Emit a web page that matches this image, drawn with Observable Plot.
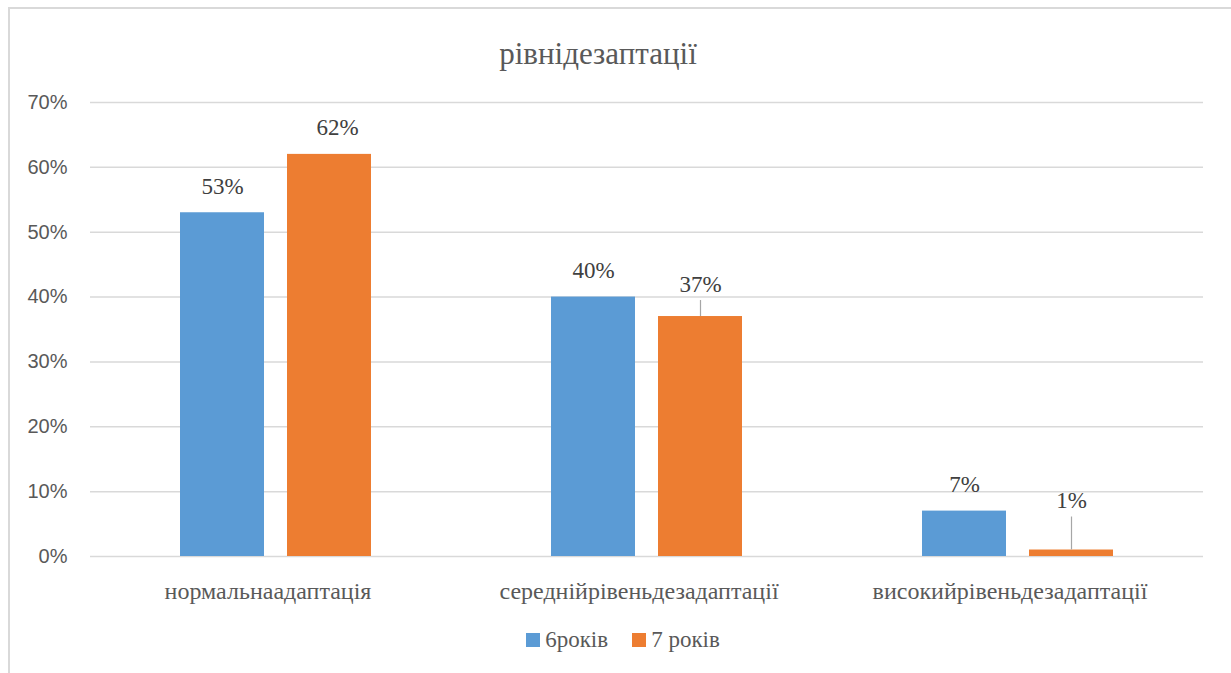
<!DOCTYPE html>
<html><head><meta charset="utf-8">
<script src="https://cdn.jsdelivr.net/npm/d3@7"></script>
<script src="https://cdn.jsdelivr.net/npm/@observablehq/plot@0.6"></script>
<style>
body{margin:0;background:#fff;overflow:hidden}
#wrap{position:relative;width:1231px;height:673px;overflow:hidden}
#frame{position:absolute;left:8px;top:7px;width:1260px;height:720px;border-left:2px solid #d9d9d9;border-top:2px solid #d9d9d9}
.serif{font-family:"Liberation Serif","Times New Roman",Tinos,"DejaVu Serif",serif}
#title{position:absolute;left:0;top:40px;width:1196px;text-align:center;font-size:31px;line-height:28px;color:#595959}
#chart{position:absolute;left:0;top:80px}
#legend{position:absolute;left:0;top:628px;width:1246px;display:flex;justify-content:center;align-items:center;font-size:23px;color:#595959;line-height:24px}
.item{display:flex;align-items:center;margin:0 12px}
.sw{width:14px;height:14px;margin-right:5px}
</style>
</head><body>
<div id="wrap">
<div id="frame"></div>
<div id="title" class="serif"></div>
<div id="chart"></div>
<div id="legend" class="serif"></div>
</div>
<script>
const titleText = "рівнідезаптації";
const categories = ["нормальнаадаптація", "середнійрівеньдезадаптації", "високийрівеньдезадаптації"];
const series = ["6років", "7 років"];
const values6 = [53, 40, 7];
const values7 = [62, 37, 1];
const yTicks = [0, 10, 20, 30, 40, 50, 60, 70];
const colors = ["#5b9bd5", "#ed7d31"];

const SERIF = '"Liberation Serif","Times New Roman",Tinos,"DejaVu Serif",serif';

const data = categories.flatMap((c, i) => [
  {category: c, series: series[0], value: values6[i]},
  {category: c, series: series[1], value: values7[i]}
]);

document.getElementById("title").textContent = titleText;

// label placement tweaks (pixels): lifted labels get a leader line
const tweaks = [
  {category: categories[0], series: series[1], lift: 0, dx: 8},
  {category: categories[1], series: series[1], lift: 16, dx: 0},
  {category: categories[2], series: series[1], lift: 33, dx: 0}
];
const isTweaked = d => tweaks.some(l => l.category === d.category && l.series === d.series);
const fmt = d => d.value + "%";
const labelStyle = {fx: "category", x: "series", y: "value", text: fmt, lineAnchor: "bottom", fontSize: 23, fontFamily: SERIF, fill: "#404040"};

const marks = [
  Plot.ruleY(yTicks, {stroke: "#d9d9d9", strokeWidth: 1.5}),
  Plot.barY(data, {fx: "category", x: "series", y: "value", fill: "series"}),
  Plot.text(data.filter(d => !isTweaked(d)), {...labelStyle, dy: -19})
];
for (const l of tweaks) {
  const rows = data.filter(d => d.category === l.category && d.series === l.series);
  if (l.lift > 0) {
    marks.push(Plot.ruleX(rows, {fx: "category", x: "series", y1: "value", y2: "value", insetTop: -l.lift, stroke: "#a6a6a6", strokeWidth: 1.2}));
    marks.push(Plot.text(rows, {...labelStyle, dx: l.dx, dy: -l.lift - 9}));
  } else {
    marks.push(Plot.text(rows, {...labelStyle, dx: l.dx, dy: -19}));
  }
}

const chart = Plot.plot({
  width: 1231, height: 530,
  marginTop: 22, marginBottom: 54, marginLeft: 89, marginRight: 28,
  style: {background: "transparent", color: "#595959"},
  fx: {domain: categories, padding: 0, label: null, axis: "bottom", tickSize: 0, tickPadding: 25},
  x: {domain: series, paddingInner: 0.215, paddingOuter: 0.841, axis: null},
  y: {domain: [0, 70], ticks: yTicks, tickFormat: d => d + "%", tickSize: 0, tickPadding: 23, label: null},
  color: {domain: series, range: colors},
  marks
});
chart.querySelectorAll('g[aria-label="y-axis tick label"]').forEach(n => {
  n.setAttribute("font-family", '"Liberation Sans",Arial,sans-serif'); n.setAttribute("font-size", 20); n.setAttribute("fill", "#595959");
});
chart.querySelectorAll('g[aria-label="fx-axis tick label"]').forEach(n => {
  n.setAttribute("font-family", SERIF); n.setAttribute("font-size", 24); n.setAttribute("fill", "#595959");
  n.querySelectorAll("text").forEach(t => t.setAttribute("dx", -8));
});
document.getElementById("chart").appendChild(chart);

const legend = document.getElementById("legend");
series.forEach((s, i) => {
  const item = document.createElement("div"); item.className = "item";
  const sw = document.createElement("div"); sw.className = "sw"; sw.style.background = colors[i];
  const t = document.createElement("span"); t.textContent = s;
  item.appendChild(sw); item.appendChild(t); legend.appendChild(item);
});
</script>
</body></html>
